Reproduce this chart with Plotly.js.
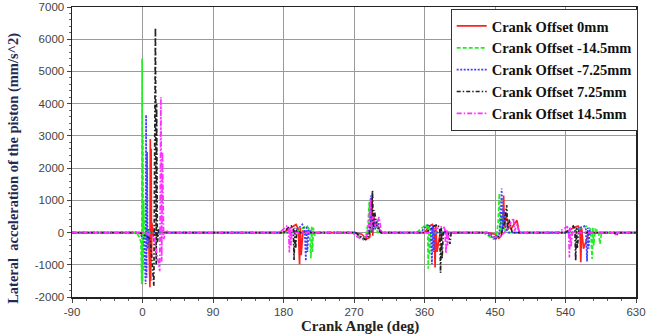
<!DOCTYPE html>
<html>
<head>
<meta charset="utf-8">
<script src="https://cdn.plot.ly/plotly-3.0.1.min.js"></script>
<style>html,body{margin:0;padding:0;background:#fff;}#chart{width:647px;height:334px;}</style>
</head>
<body>
<div id="chart"></div>
<script>
// Series names
const seriesNames = ["Crank Offset 0mm", "Crank Offset -14.5mm", "Crank Offset -7.25mm", "Crank Offset 7.25mm", "Crank Offset 14.5mm"];

// [crank angle (deg), lateral acceleration (mm/s^2)]
const offset0 = [[-90,0],[-5,0],[8,-150],[9.5,-1700],[10,2900],[10.5,-1500],[11,2600],[11.5,-800],[12,300],[14,-100],[20,0],
  [180,0],[190,150],[196,250],[199,100],[200.5,-980],[201.5,150],[202.5,-700],[205,50],[210,0],
  [270,0],[280,-50],[286,-200],[290,-150],[292,200],[293,1100],[294,-100],[295,600],[297,150],[299,250],[305,0],
  [360,0],[366,200],[370,250],[372.5,100],[373.5,-1080],[374.5,200],[376,-600],[380,0],
  [440,0],[450,-50],[455,-180],[458,-100],[460,300],[461,1150],[462,100],[464,500],[470,100],[478,380],[481,0],
  [490,0],[540,0],[550,150],[556,200],[558.5,100],[559.5,-920],[560.5,150],[563,-500],[570,0],[630,0]];

const offsetM145 = [[-90,0],[-8,0],[-4,-150],[-2,-300],[-1,-1600],[-0.5,5400],[0,-1500],[0.5,3000],[1,-1200],[1.5,1000],[2.5,-200],[5,100],[10,0],
  [195,0],[205,150],[210,200],[213,100],[215,-800],[216,200],[217,-600],[218,150],[220,-100],[224,0],
  [270,0],[276,-100],[281,-200],[285,-120],[288,300],[289.5,950],[290.5,-50],[292,500],[295,100],[298,350],[300,0],
  [350,0],[358,150],[362,250],[364,100],[364.8,-1120],[365.6,250],[366.5,-700],[368,100],[372,0],
  [435,0],[442,-100],[448,-200],[452,-100],[454,300],[455.5,1210],[456.5,0],[458,500],[462,100],[466,0],
  [550,0],[560,150],[568,200],[572,100],[574,-820],[575,150],[576,-400],[578,100],[582,50],[584,-350],[586,0],[630,0]];

const offsetM725 = [[-90,0],[-5,0],[2,-200],[4,-1600],[4.6,3650],[5.2,-1400],[5.8,2500],[6.5,-500],[8,100],[12,0],
  [190,0],[200,150],[204,250],[207,100],[208.5,-880],[209.5,200],[210.5,-600],[212,100],[216,0],
  [272,0],[278,-120],[283,-200],[287,-100],[290,300],[291.5,1150],[292.5,0],[294,600],[297,100],[300,400],[303,0],
  [355,0],[362,200],[366,250],[368,100],[369.5,-980],[370.5,200],[371.5,-600],[373,50],[377,0],
  [438,0],[445,-120],[450,-200],[455,-80],[457,300],[458.5,1370],[459.5,50],[461,700],[464,100],[468,0],
  [550,0],[558,150],[564,200],[566,100],[567.5,-900],[568.5,150],[569.5,-500],[571,50],[575,0],[630,0]];

const offsetP725 = [[-90,0],[-3,0],[10,-200],[14.5,-1650],[16.5,6350],[17.5,-1000],[18,4000],[19,-300],[21,100],[25,0],
  [180,0],[186,150],[190,200],[192.5,100],[193.5,-850],[194.5,150],[195.5,-500],[197,50],[201,0],
  [272,0],[279,-150],[285,-220],[289,-100],[292,400],[293.6,1300],[294.6,100],[296,700],[299,200],[304,0],
  [362,0],[372,200],[377,250],[379.5,100],[380.5,-1250],[381.5,150],[382.5,-800],[384,50],[390,0],[392.5,-350],[394,0],
  [440,0],[447,-100],[452,-180],[458,-50],[462,300],[465,850],[466,50],[468,400],[472,0],
  [540,0],[547,150],[550,200],[552,100],[553,-870],[554,150],[555,-500],[557,50],[562,0],[603,0],[605,-100],[607,0],[630,0]];

const offsetP145 = [[-90,0],[5,0],[15,-150],[22,-1200],[23.5,4200],[24.5,-900],[25.5,2500],[27,-200],[30,50],[35,0],
  [175,0],[181,150],[184,200],[186.5,100],[187.5,-620],[188.5,150],[189.5,-400],[191,50],[195,0],
  [268,0],[275,-150],[282,-220],[286,-100],[289,300],[291,1050],[292,50],[294,500],[298,150],[302,480],[305,0],
  [365,0],[378,150],[384,200],[386,100],[387.5,-650],[388.5,100],[389.5,-400],[391,0],[395,0],
  [440,0],[448,-150],[455,-150],[462,0],[468,200],[473.5,450],[475,50],[478,250],[481,0],
  [530,0],[538,120],[542,180],[544,100],[545,-770],[546,150],[547,-450],[549,50],[553,0],[603,0],[604.5,-100],[606,0],[630,0]];

const xTicks = [-90, 0, 90, 180, 270, 360, 450, 540, 630];
const yTicks = [-2000, -1000, 0, 1000, 2000, 3000, 4000, 5000, 6000, 7000];
const xTitle = "Crank Angle (deg)";
const yTitle = "Lateral  acceleration of the piston (mm/s^2)";

const allSeries = [offset0, offsetM145, offsetM725, offsetP725, offsetP145];
const colors = ["#ff2020", "#22ee22", "#3f3fff", "#222222", "#ff30ff"];
const dashes = ["solid", "4px,2px", "2px,1.5px", "4px,2px,1.5px,2px", "5px,2px,1.5px,2px"];

const traces = allSeries.map((s, i) => ({
  x: s.map(p => p[0]),
  y: s.map(p => p[1]),
  name: seriesNames[i],
  type: "scatter",
  mode: "lines",
  line: {color: colors[i], width: 1.7, dash: dashes[i]}
}));

const layout = {
  width: 647, height: 334,
  margin: {l: 72, r: 11, t: 7, b: 37},
  paper_bgcolor: "#fff", plot_bgcolor: "#fff",
  showlegend: true,
  legend: {
    x: 1.003, xanchor: "right", y: 0.993, yanchor: "top",
    bgcolor: "#fff", bordercolor: "#333", borderwidth: 1,
    font: {family: "Liberation Serif", size: 14.5, color: "#111", weight: "bold"},
    tracegroupgap: 0
  },
  xaxis: {
    range: [-90, 630], tickvals: xTicks, ticktext: xTicks.map(String),
    showgrid: true, gridcolor: "#9a9a9a", gridwidth: 1,
    zeroline: false, showline: true, linecolor: "#222", linewidth: 1.5, mirror: true,
    ticks: "outside", ticklen: 4, tickcolor: "#444",
    minor: {dtick: 18, ticks: "outside", ticklen: 2, tickcolor: "#666", showgrid: false},
    tickfont: {family: "Liberation Sans", size: 11.5, color: "#444"}
  },
  yaxis: {
    range: [-2000, 7000], tickvals: yTicks, ticktext: yTicks.map(String),
    showgrid: true, gridcolor: "#9a9a9a", gridwidth: 1,
    zeroline: false, showline: true, linecolor: "#222", linewidth: 1.5, mirror: true,
    ticks: "outside", ticklen: 4, tickcolor: "#444",
    minor: {dtick: 200, ticks: "outside", ticklen: 2, tickcolor: "#666", showgrid: false},
    tickfont: {family: "Liberation Sans", size: 11.5, color: "#444"}
  },
  annotations: [{
    text: "<b>" + yTitle + "</b>", textangle: -90,
    xref: "paper", yref: "paper", x: -0.103, y: 0.445,
    xanchor: "center", yanchor: "middle", showarrow: false,
    font: {family: "Liberation Serif", size: 14.5, color: "#1f2a55"}
  }, {
    text: "<b>" + xTitle + "</b>",
    xref: "paper", yref: "paper", x: 0.51, y: -0.1,
    xanchor: "center", yanchor: "middle", showarrow: false,
    font: {family: "Liberation Serif", size: 15, color: "#222"}
  }]
};

Plotly.newPlot("chart", traces, layout, {displayModeBar: false, staticPlot: true});
</script>
</body>
</html>
